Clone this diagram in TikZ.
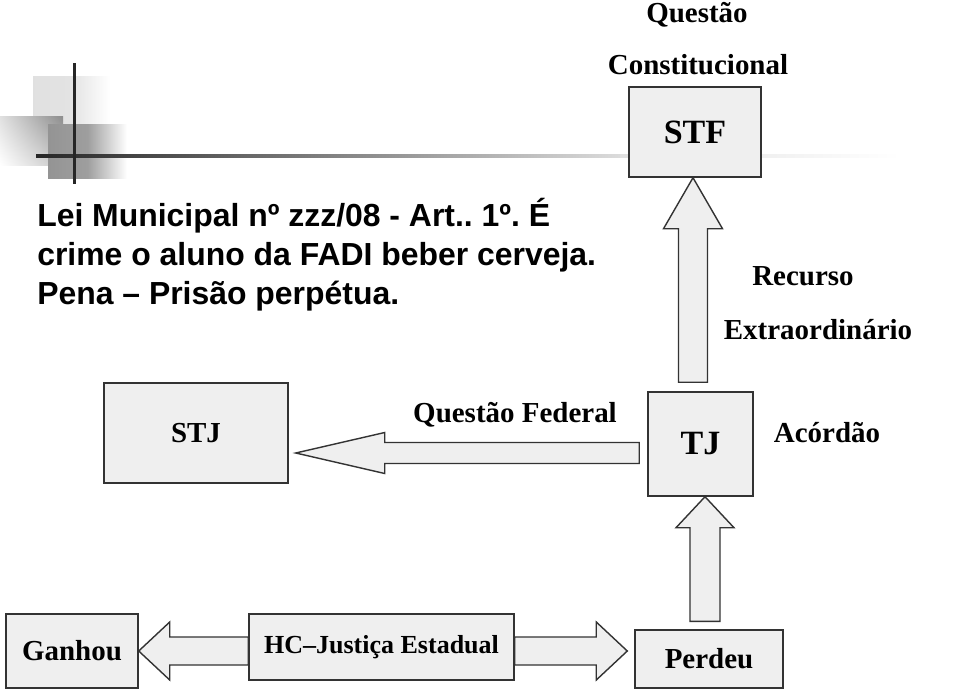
\documentclass[tikz,border=0pt]{standalone}
\usepackage{fontspec}
\setmainfont{Liberation Serif}
\newfontfamily\arialfont{Liberation Sans}
\usetikzlibrary{positioning,calc,backgrounds,shadings}
\frenchspacing

\definecolor{boxfill}{HTML}{EFEFEF}
\definecolor{boxline}{HTML}{333333}

\tikzset{
  blk shaft/.store in=\blkshaft, blk head/.store in=\blkhead, blk len/.store in=\blklen,
  blk shaft=0.35cm, blk head=0.725cm, blk len=0.775cm,
  blk/.style={draw=boxline, fill=boxfill, line width=1pt, line join=miter,
    to path={
      -- ($(\tikztostart)!\blkshaft!90:(\tikztotarget)$)
      -- ($($(\tikztotarget)!\blklen!(\tikztostart)$)!\blkshaft!90:(\tikztotarget)$)
      -- ($($(\tikztotarget)!\blklen!(\tikztostart)$)!\blkhead!90:(\tikztotarget)$)
      -- (\tikztotarget)
      -- ($($(\tikztotarget)!\blklen!(\tikztostart)$)!\blkhead!-90:(\tikztotarget)$)
      -- ($($(\tikztotarget)!\blklen!(\tikztostart)$)!\blkshaft!-90:(\tikztotarget)$)
      -- ($(\tikztostart)!\blkshaft!-90:(\tikztotarget)$)
      -- cycle}}
}

\begin{document}
\begin{tikzpicture}[
      x=0.025cm, y=-0.025cm,
      box/.style={draw=boxline, fill=boxfill, line width=1pt, inner sep=0pt,
                  font=\bfseries\fontsize{20.6pt}{24pt}\selectfont},
      bigbox/.style={box, font=\bfseries\fontsize{24.2pt}{28pt}\selectfont},
      lbl/.style={inner sep=0pt, font=\bfseries\fontsize{20.6pt}{24pt}\selectfont},
      lawtext/.style={inner sep=0pt, align=left,
                      font=\arialfont\bfseries\fontsize{22.7pt}{27.7pt}\selectfont},
  ]
    \useasboundingbox (0,0) rectangle (960,691);

    %% --- Template corner decoration ---
    \shade[left color=black!12, right color=white, middle color=black!11] (33,76) rectangle (110,124);
    \shade[upper right=black!45, upper left=black!12, lower right=black!22, lower left=white] (0,116) rectangle (63,165);
    \shade[left color=black!42, right color=white, middle color=black!38] (48,124) rectangle (127,178);
    \shade[left color=black!85, right color=black!14] (36,154.5) rectangle (620,157.5);
    \shade[left color=black!12, right color=white] (620,154.5) rectangle (900,157.5);
    \fill[black!85] (72.5,63) rectangle (75.5,184);

    %% --- Statute text ---
    \node[lawtext, anchor=north west] (lei) at (37,198)
      {Lei Municipal nº zzz/08 - Art.. 1º. É\\
       crime o aluno da FADI beber cerveja.\\
       Pena – Prisão perpétua.};

    %% --- Courts ---
    \node[bigbox, minimum width=3.3cm, minimum height=2.25cm] (stf) at (695,132) {STF};
    \node[bigbox, minimum width=2.625cm, minimum height=2.6cm] (tj) at (700.5,444) {TJ};
    \node[box, minimum width=4.6cm, minimum height=2.5cm] (stj) at (196,433) {STJ};

    %% --- Bottom row ---
    \node[box, minimum width=3.3cm, minimum height=1.85cm] (ganhou) at (72,651) {Ganhou};
    \node[box, minimum width=6.625cm, minimum height=1.65cm,
          font=\bfseries\fontsize{18.5pt}{22pt}\selectfont] (hc) at (381.5,647) {HC–Justiça Estadual};
    \node[box, minimum width=3.7cm, minimum height=1.45cm] (perdeu) at (709,659) {Perdeu};

    %% --- Labels ---
    \node[lbl] (qc1) at (697,15) {Questão};
    \node[lbl] (qc2) at (698,65) {Constitucional};
    \node[lbl] (re1) at (803,276) {Recurso};
    \node[lbl] (re2) at (818,330) {Extraordinário};
    \node[lbl] (qf) at (515,415) {Questão Federal};
    \node[lbl] (ac) at (827,433) {Acórdão};

    %% --- Block arrows ---
    \coordinate (reStart) at ($(tj.north)+(-7.5,-9)$);
    \coordinate (reTip) at (reStart |- stf.south);
    \coordinate (qfStart) at ($(tj.west)+(-8,9)$);
    \coordinate (qfTip) at ($(stj.east |- qfStart)+(7,0)$);
    \coordinate (acStart) at ($(perdeu.north)+(-4,-8)$);
    \coordinate (acTip) at (acStart |- tj.south);
    \coordinate (hcLeft) at (hc.west |- ganhou.east);
    \coordinate (hcRight) at (hc.east |- ganhou.east);
    \coordinate (hcTip) at ($(perdeu.west |- ganhou.east)+(-7,0)$);

    \begin{scope}[on background layer]
      \draw[blk, blk shaft=0.3625cm, blk head=0.7375cm, blk len=1.275cm] (reStart) to (reTip);
      \draw[blk, blk shaft=0.2625cm, blk head=0.5125cm, blk len=2.225cm] (qfStart) to (qfTip);
      \draw[blk, blk shaft=0.375cm, blk head=0.725cm] (acStart) to (acTip);
      \draw[blk] (hcLeft) to (ganhou.east);
      \draw[blk] (hcRight) to (hcTip);
    \end{scope}
  \end{tikzpicture}
\end{document}
